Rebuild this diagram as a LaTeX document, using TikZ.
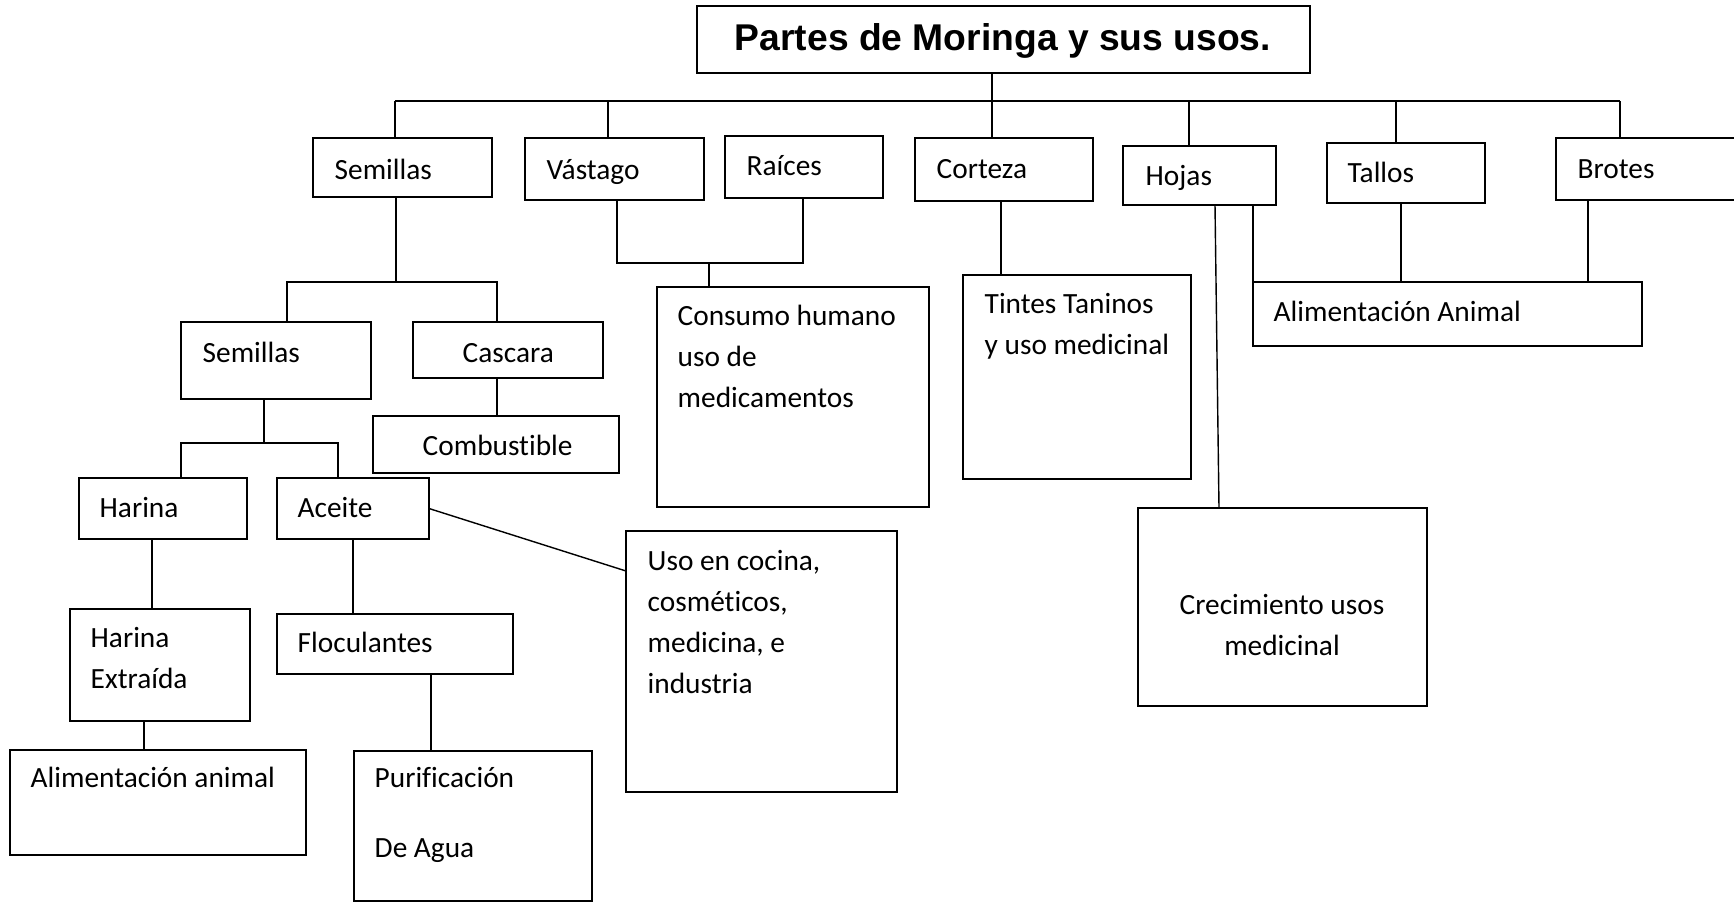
\documentclass[tikz,border=0pt]{standalone}
\usepackage{fontspec}
\setmainfont{Carlito}[Ligatures=NoCommon]
\newfontfamily\arialfont{Liberation Sans}
\usetikzlibrary{fit}

\newcommand{\cuerpo}{\fontsize{16.7}{23.3}\selectfont}

\tikzset{
  caja/.style={draw, inner sep=0pt, outer sep=0pt},
  texto/.style={anchor=base west, inner sep=0pt, font=\cuerpo, align=left},
}

\begin{document}
\begin{tikzpicture}[x=0.02cm, y=-0.02cm, line width=0.8pt]
\useasboundingbox (0,0) rectangle (1734,903);
\clip (0,0) rectangle (1734,903);

% titulo
\node[caja, fit={(697,6) (1310,73)}] (titulo) {};
\node[texto, anchor=base, font=\arialfont\bfseries\fontsize{21.2}{24}\selectfont] (tTitulo) at (1003,50) {Partes de Moringa y sus usos.};

% primera fila
\node[caja, fit={(313,138) (492,197)}] (semillas) {};
\node[caja, fit={(525,138) (704,200)}] (vastago) {};
\node[caja, fit={(725,136) (883,198)}] (raices) {};
\node[caja, fit={(915,138) (1093,201)}] (corteza) {};
\node[caja, fit={(1123,146) (1276,205)}] (hojas) {};
\node[caja, fit={(1327,143) (1485,203)}] (tallos) {};
\node[caja, fit={(1556,138) (1760,200)}] (brotes) {};

\node[texto] (tSemillas) at (334,179) {Semillas};
\node[texto] (tVastago) at (546,179) {Vástago};
\node[texto] (tRaices) at (746,175) {Raíces};
\node[texto] (tCorteza) at (936,178) {Corteza};
\node[texto] (tHojas) at (1145,185) {Hojas};
\node[texto] (tTallos) at (1347,182) {Tallos};
\node[texto] (tBrotes) at (1577,178) {Brotes};

% cajas de abajo
\node[caja, fit={(181,322) (371,399)}] (semillasB) {};
\node[caja, fit={(413,322) (603,378)}] (cascara) {};
\node[caja, fit={(373,416) (619,473)}] (combustible) {};
\node[caja, fit={(79,478) (247,539)}] (harina) {};
\node[caja, fit={(277,478) (429,539)}] (aceite) {};
\node[caja, fit={(70,609) (250,721)}] (harinaExt) {};
\node[caja, fit={(10,750) (306,855)}] (alimAnimal) {};
\node[caja, fit={(277,614) (513,674)}] (floculantes) {};
\node[caja, fit={(354,751) (592,901)}] (purificacion) {};
\node[caja, fit={(626,531) (897,792)}] (usoCocina) {};
\node[caja, fit={(657,287) (929,507)}] (consumo) {};
\node[caja, fit={(963,275) (1191,479)}] (tintes) {};
\node[caja, fit={(1138,508) (1427,706)}] (crecimiento) {};
\node[caja, fit={(1253,282) (1642,346)}] (alimB) {};

% textos de varias lineas: la base es la ultima linea
\node[texto] (tSemillasB) at (202,362) {Semillas};
\node[texto] (tCascara) at (462,362) {Cascara};
\node[texto] (tCombustible) at (422,455) {Combustible};
\node[texto] (tHarina) at (99,517) {Harina};
\node[texto] (tAceite) at (297,517) {Aceite};
\node[texto] (tHarinaExt) at (90,688) {Harina\\Extraída};
\node[texto] (tFloculantes) at (297,652) {Floculantes};
\node[texto] (tAlimAnimal) at (30,787) {Alimentación animal};
\node[texto] (tPurificacion) at (374,857) {Purificación\\[16pt]De Agua};
\node[texto] (tUsoCocina) at (647,693) {Uso en cocina,\\cosméticos,\\medicina, e\\industria};
\node[texto] (tConsumo) at (677,407) {Consumo humano\\uso de\\medicamentos};
\node[texto] (tTintes) at (984,354) {Tintes Taninos\\y uso medicinal};
\node[texto, anchor=base, align=center] (tCrecimiento) at (1282,655) {Crecimiento usos\\medicinal};
\node[texto] (tAlimB) at (1273,321) {Alimentación Animal};

% barra de arriba
\coordinate (busL) at (395,101);
\coordinate (busR) at (1620,101);
\draw (busL) -- (busR);
\foreach \n/\x in {semillas/395, vastago/608, hojas/1189, tallos/1396, brotes/1620}
  \draw (\x,0 |- busL) -- (\x,0 |- \n.north);
\draw (992,0 |- titulo.south) -- (992,0 |- corteza.north);

% semillas
\coordinate (jSem) at (396,282);
\draw (jSem |- semillas.south) -- (jSem);
\draw (287,0 |- semillasB.north) |- (jSem) -| (497,0 |- cascara.north);
\draw (497,0 |- cascara.south) -- (497,0 |- combustible.north);
\coordinate (jSemB) at (264,443);
\draw (jSemB |- semillasB.south) -- (jSemB);
\draw (181,0 |- harina.north) |- (jSemB) -| (338,0 |- aceite.north);
\draw (152,0 |- harina.south) -- (152,0 |- harinaExt.north);
\draw (144,0 |- harinaExt.south) -- (144,0 |- alimAnimal.north);
\draw (aceite.south) -- (aceite.south |- floculantes.north);
\draw (431,0 |- floculantes.south) -- (431,0 |- purificacion.north);
\draw (aceite.east) -- (usoCocina.west |- 0,571);

% vastago y raices
\coordinate (jVR) at (709,263);
\draw (617,0 |- vastago.south) |- (jVR) -| (803,0 |- raices.south);
\draw (jVR) -- (jVR |- consumo.north);

% corteza, hojas, tallos, brotes
\draw (1001,0 |- corteza.south) -- (1001,0 |- tintes.north);
\draw (1215,0 |- hojas.south) -- (1219,0 |- crecimiento.north);
\draw (hojas.south -| alimB.north west) -- (alimB.north west);
\draw (1401,0 |- tallos.south) -- (1401,0 |- alimB.north);
\draw (1588,0 |- brotes.south) -- (1588,0 |- alimB.north);

\end{tikzpicture}
\end{document}
